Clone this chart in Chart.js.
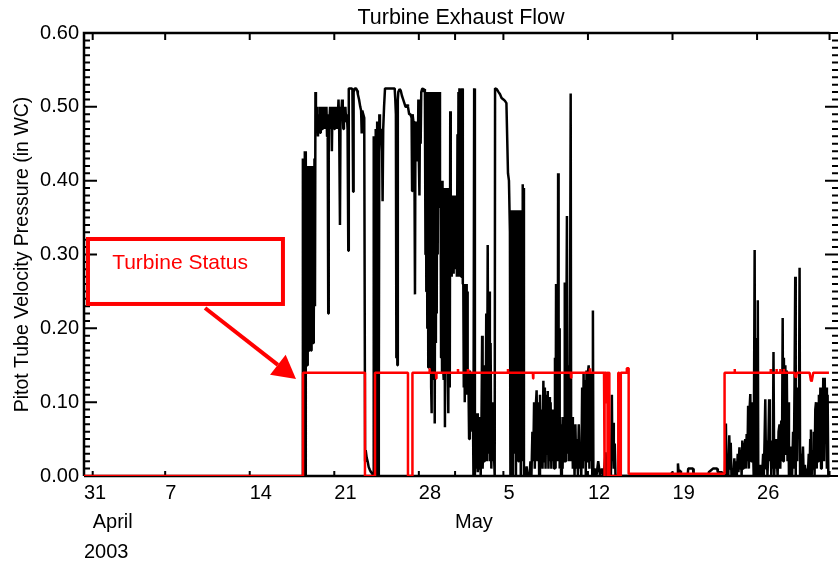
<!DOCTYPE html>
<html>
<head>
<meta charset="utf-8">
<title>Turbine Exhaust Flow</title>
<script src="https://cdn.jsdelivr.net/npm/chart.js@4.4.0/dist/chart.umd.min.js"></script>
<style>
  html, body { margin: 0; padding: 0; background: #fff; }
  #chart { display: block; }
</style>
</head>
<body>
<canvas id="chart" width="838" height="563"></canvas>
<script>
// x values are days counted from 1 April 2003 00:00 (30 = 1 May)
const xMin = -0.72, xMax = 61.7;
const frameEndDay = 61;

// x axis labels (three rows: day, month, year)
const tickDays    = [xMin, 0, 6, 13, 20, 27, 30, 34, 41, 48, 55];
const dayLabels   = ['31', '', '7', '14', '21', '28', '', '5', '12', '19', '26'];
const monthLabels = ['', 'April', '', '', '', '', 'May', '', '', '', ''];
const yearLabels  = ['2003', '', '', '', '', '', '', '', '', '', ''];
const markDays    = [0, 6, 13, 20, 27, 30, 34, 41, 48, 55, 61];
const yTickValues = [0, 0.1, 0.2, 0.3, 0.4, 0.5, 0.6];

// pitot tube velocity pressure, [day, in WC]
const flowApril = [
  [17.35,0],[17.40,0.43],[17.44,0.10],[17.48,0.43],[17.52,0.20],[17.56,0.44],[17.60,0.00],[17.64,0.44],[17.68,0.16],[17.72,0.42],
  [17.76,0.15],[17.80,0.42],[17.84,0.19],[17.88,0.42],[17.92,0.17],[17.96,0.42],[18.00,0.18],[18.04,0.41],[18.08,0.17],[18.12,0.42],
  [18.16,0.19],[18.20,0.42],[18.24,0.18],[18.28,0.42],[18.32,0.20],[18.36,0.43],[18.40,0.23],[18.44,0.52],
  [18.48,0.48],[18.52,0.50],[18.56,0.47],[18.60,0.49],[18.65,0.46],[18.70,0.49],[18.74,0.47],[18.78,0.50],[18.82,0.465],[18.86,0.49],
  [18.90,0.48],[18.95,0.50],[19.00,0.47],[19.05,0.49],[19.10,0.48],[19.15,0.50],[19.20,0.47],[19.25,0.49],[19.30,0.48],[19.35,0.50],
  [19.40,0.46],[19.45,0.49],[19.50,0.22],[19.54,0.49],[19.60,0.48],[19.65,0.50],[19.70,0.47],[19.75,0.49],[19.80,0.44],[19.85,0.50],
  [19.90,0.48],[19.95,0.49],[20.00,0.47],[20.05,0.50],[20.10,0.48],[20.15,0.49],[20.20,0.47],[20.25,0.50],[20.30,0.49],[20.35,0.51],
  [20.40,0.48],[20.47,0.34],[20.52,0.50],[20.58,0.49],[20.64,0.51],[20.70,0.49],[20.75,0.47],[20.80,0.50],[20.86,0.49],[20.92,0.50],
  [20.98,0.48],[21.04,0.49],[21.10,0.47],[21.16,0.305],[21.20,0.525],[21.30,0.525],[21.40,0.525],[21.50,0.524],[21.56,0.385],[21.60,0.52],
  [21.70,0.525],[21.80,0.525],[21.90,0.522],[21.95,0.517],[22.05,0.51],[22.15,0.50],[22.22,0.495],[22.27,0.464],[22.32,0.495],[22.40,0.49],
  [22.48,0.485],[22.53,0.485],[22.55,0.02],
  [22.60,0.035],[22.68,0.025],[22.76,0.02],[22.85,0.012],[22.95,0.008],[23.05,0.005],[23.15,0.003],
  [23.22,0.0],[23.25,0.46],[23.28,0.0],[23.31,0.45],[23.34,0.0],[23.37,0.46],[23.40,0.02],[23.43,0.47],[23.46,0.0],[23.49,0.46],
  [23.52,0.05],[23.55,0.48],[23.58,0.03],[23.61,0.47],[23.64,0.0],[23.67,0.47],[23.70,0.10],[23.73,0.49],
  [23.78,0.455],[23.84,0.47],[23.90,0.46],[23.96,0.44],[24.00,0.372],[24.05,0.47],[24.12,0.50],[24.20,0.525],[24.40,0.525],[24.60,0.525],
  [24.80,0.525],[25.00,0.525],[25.05,0.51],[25.10,0.49],[25.14,0.16],[25.18,0.50],[25.22,0.15],[25.26,0.51],
  [25.30,0.52],[25.40,0.524],[25.50,0.522],[25.60,0.515],[25.70,0.51],[25.80,0.505],[25.90,0.50],[26.00,0.50],[26.05,0.503],[26.10,0.50],
  [26.20,0.49],[26.30,0.49],[26.40,0.485],[26.44,0.386],[26.48,0.49],[26.55,0.48],[26.62,0.48],[26.68,0.246],[26.72,0.48],[26.76,0.43],
  [26.80,0.475],[26.84,0.426],[26.88,0.47],[26.92,0.44],[26.96,0.51],[27.00,0.43],[27.05,0.38],[27.10,0.51],[27.15,0.45],[27.20,0.52],
  [27.27,0.524],[27.35,0.525],[27.42,0.52],[27.50,0.524],
  [27.55,0.30],[27.58,0.52],[27.62,0.25],[27.66,0.52],[27.70,0.20],[27.74,0.51],[27.78,0.147],[27.82,0.52],[27.86,0.22],[27.90,0.50],
  [27.94,0.19],[27.98,0.52],[28.02,0.12],[28.06,0.085],[28.10,0.51],[28.14,0.16],[28.18,0.52],[28.22,0.13],[28.26,0.50],[28.30,0.10],
  [28.33,0.071],[28.37,0.52],[28.41,0.18],[28.45,0.51],[28.48,0.22],[28.52,0.52],[28.56,0.30],[28.60,0.50],[28.65,0.363],[28.70,0.52],
  [28.75,0.37],[28.80,0.40],[28.84,0.16],[28.88,0.39],[28.92,0.14],[28.96,0.40],[29.00,0.15],[29.04,0.39],[29.08,0.13],[29.12,0.39],
  [29.16,0.066],[29.20,0.39],[29.24,0.14],[29.28,0.39],[29.32,0.16],[29.36,0.385],[29.40,0.13],[29.44,0.085],[29.50,0.39],[29.56,0.12],
  [29.60,0.494],[29.64,0.28],[29.68,0.38],[29.72,0.27],[29.76,0.38],[29.80,0.28],[29.84,0.375],[29.88,0.274],[29.92,0.38],[29.96,0.28]
];

const flowMay = [
  [30.00,0.37],[30.04,0.30],[30.10,0.38],[30.15,0.27],[30.20,0.463],[30.24,0.28],[30.28,0.52],[30.32,0.27],[30.36,0.525],[30.40,0.30],
  [30.45,0.38],[30.50,0.27],[30.56,0.40],[30.60,0.525],[30.64,0.26],[30.68,0.26],[30.72,0.12],[30.76,0.26],[30.80,0.10],[30.84,0.25],
  [30.88,0.12],[30.92,0.26],[30.96,0.11],[31.00,0.25],[31.04,0.13],[31.10,0.14],[31.16,0.05],[31.22,0.143],[31.28,0.06],[31.34,0.14],
  [31.40,0.08],[31.46,0.13],[31.52,0.0],[31.58,0.525],[31.64,0.0],[31.70,0.07],[31.76,0.01],[31.82,0.085],[31.88,0.005],[31.94,0.07],
  [32.00,0.01],[32.06,0.08],[32.12,0.0],[32.18,0.06],[32.24,0.19],[32.28,0.01],[32.34,0.05],[32.40,0.02],[32.46,0.15],[32.52,0.03],
  [32.58,0.22],[32.64,0.02],[32.70,0.313],[32.76,0.03],[32.82,0.25],[32.88,0.02],[32.94,0.18],[33.00,0.01],[33.06,0.10],[33.12,0.02],
  [33.20,0.04],[33.28,0.0],[33.31,0.525],[33.45,0.524],[33.60,0.52],[33.72,0.517],[33.85,0.512],[34.00,0.51],[34.13,0.508],[34.25,0.505],
  [34.38,0.41],[34.46,0.40],[34.54,0.33],[34.58,0.0],[34.62,0.34],[34.66,0.02],[34.70,0.36],[34.74,0.0],[34.79,0.36],[34.84,0.04],
  [34.89,0.36],[34.94,0.03],[34.99,0.355],[35.04,0.0],[35.09,0.36],[35.14,0.05],[35.19,0.36],[35.24,0.02],[35.29,0.355],[35.34,0.03],
  [35.39,0.36],[35.44,0.0],[35.49,0.36],[35.54,0.03],[35.58,0.395],[35.62,0.02],[35.66,0.39],[35.70,0.0],[35.76,0.01],[35.84,0.0],
  [35.92,0.013],[36.00,0.0],[36.08,0.005],[36.16,0.0],[36.24,0.02],[36.32,0.0],[36.40,0.06],[36.47,0.02],[36.54,0.10],[36.60,0.01],
  [36.67,0.09],[36.75,0.116],[36.82,0.02],[36.89,0.10],[36.96,0.0],[37.03,0.11],[37.10,0.02],[37.17,0.09],[37.24,0.01],[37.31,0.129],
  [37.37,0.02],[37.43,0.12],[37.49,0.01],[37.55,0.11],[37.61,0.03],[37.67,0.115],[37.73,0.01],[37.79,0.107],[37.85,0.02],[37.91,0.10],
  [37.97,0.01],[38.03,0.09],[38.09,0.02],[38.15,0.08],[38.21,0.01],[38.27,0.16],[38.32,0.01],[38.36,0.26],[38.41,0.02],[38.46,0.24],
  [38.50,0.03],[38.53,0.41],[38.57,0.02],[38.62,0.20],[38.66,0.01],[38.72,0.08],[38.78,0.0],[38.84,0.07],[38.90,0.01],[38.96,0.08],
  [39.02,0.02],[39.08,0.262],[39.12,0.02],[39.18,0.09],[39.26,0.352],[39.30,0.03],[39.36,0.15],[39.42,0.02],[39.50,0.12],[39.57,0.518],
  [39.61,0.02],[39.68,0.08],[39.75,0.01],[39.82,0.06],[39.89,0.0],[39.96,0.07],[40.03,0.01],[40.10,0.05],[40.17,0.0],[40.24,0.07],
  [40.31,0.01],[40.38,0.04],[40.45,0.0],[40.52,0.12],[40.58,0.01],[40.64,0.14],[40.70,0.02],[40.76,0.13],[40.82,0.0],[40.88,0.143],
  [40.94,0.02],[41.00,0.14],[41.06,0.15],[41.12,0.01],[41.18,0.14],[41.24,0.02],[41.30,0.13],[41.36,0.0],[41.41,0.224],[41.45,0.0],
  [41.55,0.01],[41.70,0.0],[41.85,0.02],[42.00,0.0],[42.15,0.01],[42.30,0.0],[42.46,0.032],[42.52,0.0],[42.90,0.0],[42.98,0.11],
  [43.02,0.02],[43.08,0.072],[43.14,0.01],[43.22,0.044],[43.28,0.0],[45.00,0.0],[47.90,0.0],[47.96,0.005],[48.10,0.0],[48.42,0.0],
  [48.45,0.017],[48.50,0.007],[48.65,0.007],[48.70,0.0],[49.25,0.0],[49.30,0.01],[49.70,0.01],[49.75,0.0],[50.95,0.0],[51.00,0.005],
  [51.35,0.01],[51.70,0.01],[51.75,0.005],[52.10,0.005],[52.15,0.0]
];

const flowLateMay = [
  [52.34,0.0],[52.42,0.071],[52.48,0.0],[52.56,0.03],[52.62,0.0],[52.70,0.055],[52.76,0.01],[52.82,0.045],[52.88,0.0],[52.96,0.01],
  [53.04,0.0],[53.12,0.024],[53.18,0.0],[53.26,0.02],[53.32,0.0],[53.40,0.03],[53.46,0.005],[53.54,0.039],[53.60,0.01],[53.66,0.035],
  [53.72,0.0],[53.78,0.048],[53.84,0.01],[53.90,0.045],[53.96,0.02],[54.02,0.05],[54.08,0.01],[54.14,0.057],[54.20,0.02],[54.26,0.095],
  [54.32,0.01],[54.38,0.09],[54.44,0.111],[54.50,0.02],[54.56,0.10],[54.62,0.03],[54.66,0.05],[54.72,0.0],[54.80,0.306],[54.84,0.0],
  [54.88,0.187],[54.92,0.16],[54.96,0.18],[55.00,0.0],[55.06,0.238],[55.10,0.0],[55.18,0.015],[55.26,0.0],[55.34,0.015],[55.42,0.0],
  [55.50,0.03],[55.56,0.0],[55.62,0.048],[55.68,0.104],[55.74,0.01],[55.80,0.048],[55.86,0.0],[55.92,0.03],[56.00,0.104],[56.06,0.02],
  [56.12,0.048],[56.18,0.0],[56.24,0.04],[56.30,0.01],[56.36,0.168],[56.42,0.0],[56.50,0.05],[56.56,0.01],[56.62,0.03],[56.70,0.0],
  [56.78,0.06],[56.86,0.07],[56.92,0.01],[57.00,0.075],[57.06,0.02],[57.12,0.214],[57.16,0.02],[57.22,0.16],[57.28,0.05],[57.34,0.15],
  [57.40,0.03],[57.46,0.143],[57.52,0.02],[57.58,0.10],[57.64,0.0],[57.70,0.015],[57.76,0.0],[57.84,0.04],[57.90,0.0],[57.98,0.06],
  [58.04,0.01],[58.10,0.12],[58.16,0.27],[58.20,0.0],[58.26,0.12],[58.32,0.02],[58.40,0.12],[58.46,0.05],[58.52,0.282],[58.56,0.0],
  [58.64,0.03],[58.70,0.0],[58.80,0.04],[58.86,0.0],[58.96,0.015],[59.04,0.0],[59.14,0.01],[59.20,0.0],[59.28,0.03],[59.34,0.0],
  [59.40,0.05],[59.46,0.063],[59.52,0.0],[59.58,0.035],[59.64,0.01],[59.70,0.06],[59.76,0.0],[59.82,0.09],[59.88,0.10],[59.94,0.01],
  [60.00,0.095],[60.06,0.02],[60.12,0.11],[60.18,0.03],[60.24,0.12],[60.30,0.01],[60.36,0.12],[60.42,0.04],[60.48,0.133],[60.54,0.02],
  [60.60,0.133],[60.66,0.05],[60.72,0.12],[60.78,0.01],[60.84,0.11],[60.90,0.0]
];

// turbine status trace (plotted on the same axis), [day, value]
const statusSteps = [
  [xMin,0],[17.41,0],[17.41,0.14],[22.54,0.14],[22.54,0],[23.37,0],[23.37,0.14],[26.10,0.14],[26.10,0],[26.47,0],[26.47,0.14],
  [27.88,0.14],[27.89,0.146],[27.90,0.14],[28.42,0.14],[28.44,0.132],[28.46,0.14],[30.23,0.14],[30.24,0.145],[30.25,0.14],
  [31.06,0.14],[31.07,0.145],[31.08,0.14],[34.37,0.14],[34.38,0.145],[34.39,0.14],[36.44,0.14],[36.46,0.132],[36.48,0.14],
  [39.58,0.14],[39.60,0.133],[39.62,0.14],[41.16,0.14],[41.17,0.146],[41.18,0.14],
  [42.33,0.14],[42.33,0],[42.40,0],[42.40,0.14],[42.49,0.14],[42.49,0.10],[42.56,0.10],[42.56,0.14],[42.62,0.14],[42.62,0],
  [42.70,0],[42.70,0.14],[42.77,0.14],[42.77,0],[43.51,0],[43.51,0.14],[43.58,0.14],[43.58,0],[43.72,0],[43.72,0.14],
  [44.20,0.14],[44.22,0.146],[44.37,0.146],[44.37,0.003],[52.31,0.003],[52.31,0.14],
  [53.14,0.14],[53.15,0.145],[53.16,0.14],[56.12,0.14],[56.13,0.145],[56.14,0.14],[56.60,0.14],[56.61,0.145],[56.63,0.14],
  [56.90,0.14],[56.92,0.145],[56.94,0.14],[57.20,0.14],[57.22,0.145],[57.24,0.14],[58.10,0.14],[58.15,0.136],[58.22,0.133],
  [58.30,0.14],[59.35,0.14],[59.45,0.13],[59.52,0.128],[59.60,0.135],[59.65,0.14],[60.95,0.14]
];

// callout, in data coordinates
const noteText = 'Turbine Status';
const noteBox = { x0: -0.39, x1: 15.75, y0: 0.233, y1: 0.321 };
const noteLabel = { x: 7.23, y: 0.2885 };
const noteArrow = { x0: 9.3, y0: 0.2276, x1: 16.83, y1: 0.1314 };

const fontFamily = "'Liberation Sans', Arial, Helvetica, sans-serif";
Chart.defaults.font.family = fontFamily;
Chart.defaults.color = '#000';

const toXY = pts => pts.map(p => ({ x: p[0], y: p[1] }));

// box, inward tick marks (drawn under the data like the original)
const axisFrame = {
  id: 'axisFrame',
  beforeDatasetsDraw(chart) {
    const { ctx, chartArea: area, scales: { x, y } } = chart;
    const xEnd = x.getPixelForValue(frameEndDay);
    ctx.save();
    ctx.strokeStyle = '#000';
    ctx.lineWidth = 2.5;
    ctx.beginPath();
    ctx.moveTo(area.left, area.bottom);
    ctx.lineTo(area.left, area.top);
    ctx.lineTo(xEnd, area.top);
    ctx.moveTo(area.left, area.bottom);
    ctx.lineTo(xEnd, area.bottom);
    ctx.stroke();

    ctx.lineWidth = 2;
    ctx.beginPath();
    for (let i = 0; i <= 60; i++) {
      const py = y.getPixelForValue(i / 100);
      const len = i % 10 === 0 ? 13 : 6;
      ctx.moveTo(area.left, py);
      ctx.lineTo(area.left + len, py);
      ctx.moveTo(area.right, py);
      ctx.lineTo(area.right - len, py);
    }
    markDays.forEach(d => {
      const px = x.getPixelForValue(d);
      ctx.moveTo(px, area.bottom);
      ctx.lineTo(px, area.bottom - 5);
      ctx.moveTo(px, area.top);
      ctx.lineTo(px, area.top + 7);
    });
    ctx.stroke();
    ctx.restore();
  }
};

const statusNote = {
  id: 'statusNote',
  afterDatasetsDraw(chart) {
    const { ctx, scales: { x, y } } = chart;
    const bx0 = x.getPixelForValue(noteBox.x0), bx1 = x.getPixelForValue(noteBox.x1);
    const by0 = y.getPixelForValue(noteBox.y0), by1 = y.getPixelForValue(noteBox.y1);
    ctx.save();
    ctx.strokeStyle = '#ff0000';
    ctx.fillStyle = '#ff0000';
    ctx.lineWidth = 4;
    ctx.strokeRect(bx0, by1, bx1 - bx0, by0 - by1);

    ctx.font = '21px ' + fontFamily;
    ctx.textAlign = 'center';
    ctx.textBaseline = 'middle';
    ctx.fillText(noteText, x.getPixelForValue(noteLabel.x), y.getPixelForValue(noteLabel.y));

    const sx = x.getPixelForValue(noteArrow.x0), sy = y.getPixelForValue(noteArrow.y0);
    const tx = x.getPixelForValue(noteArrow.x1), ty = y.getPixelForValue(noteArrow.y1);
    const len = Math.hypot(tx - sx, ty - sy);
    const ux = (tx - sx) / len, uy = (ty - sy) / len;
    const head = 23, half = 12.7;
    const bx = tx - ux * head, by = ty - uy * head;
    ctx.beginPath();
    ctx.moveTo(sx, sy);
    ctx.lineTo(bx, by);
    ctx.stroke();
    ctx.beginPath();
    ctx.moveTo(tx, ty);
    ctx.lineTo(bx - uy * half, by + ux * half);
    ctx.lineTo(bx + uy * half, by - ux * half);
    ctx.closePath();
    ctx.fill();
    ctx.restore();
  }
};

new Chart(document.getElementById('chart'), {
  type: 'line',
  data: {
    datasets: [
      {
        label: 'Turbine Status',
        data: toXY(statusSteps),
        borderColor: '#ff0000',
        borderWidth: 2.5,
        borderJoinStyle: 'bevel',
        pointRadius: 0,
        tension: 0
      },
      {
        label: 'Pitot Tube Velocity Pressure',
        data: toXY(flowApril.concat(flowMay, flowLateMay)),
        borderColor: '#000000',
        borderWidth: 2.5,
        borderJoinStyle: 'bevel',
        pointRadius: 0,
        tension: 0
      }
    ]
  },
  options: {
    responsive: false,
    animation: false,
    events: [],
    layout: { padding: 0 },
    plugins: {
      legend: { display: false },
      tooltip: { enabled: false },
      title: {
        display: true,
        text: 'Turbine Exhaust Flow',
        fullSize: false,
        color: '#000',
        font: { size: 21.5, weight: 'normal', lineHeight: '24px' },
        padding: { top: 6, bottom: 3 }
      }
    },
    scales: {
      x: {
        type: 'linear',
        min: xMin,
        max: xMax,
        afterBuildTicks: s => { s.ticks = tickDays.map(v => ({ value: v })); },
        afterFit: s => { s.height = 87; },
        grid: { display: false, drawTicks: false },
        border: { display: false },
        ticks: {
          autoSkip: false,
          maxRotation: 0,
          align: 'start',
          padding: 2.6,
          color: '#000',
          font: { size: 20, lineHeight: 1.47 },
          callback: (v, i) => [dayLabels[i], monthLabels[i], yearLabels[i]]
        }
      },
      y: {
        min: 0,
        max: 0.6,
        afterBuildTicks: s => { s.ticks = yTickValues.map(v => ({ value: v })); },
        afterFit: s => { s.width = 84; },
        grid: { display: false, drawTicks: false },
        border: { display: false },
        ticks: {
          padding: 5,
          color: '#000',
          font: { size: 20 },
          callback: v => v.toFixed(2)
        },
        title: {
          display: true,
          text: 'Pitot Tube Velocity Pressure (in WC)',
          color: '#000',
          font: { size: 19.5 },
          padding: { top: 11, bottom: 0 }
        }
      }
    }
  },
  plugins: [axisFrame, statusNote]
});
</script>
</body>
</html>
